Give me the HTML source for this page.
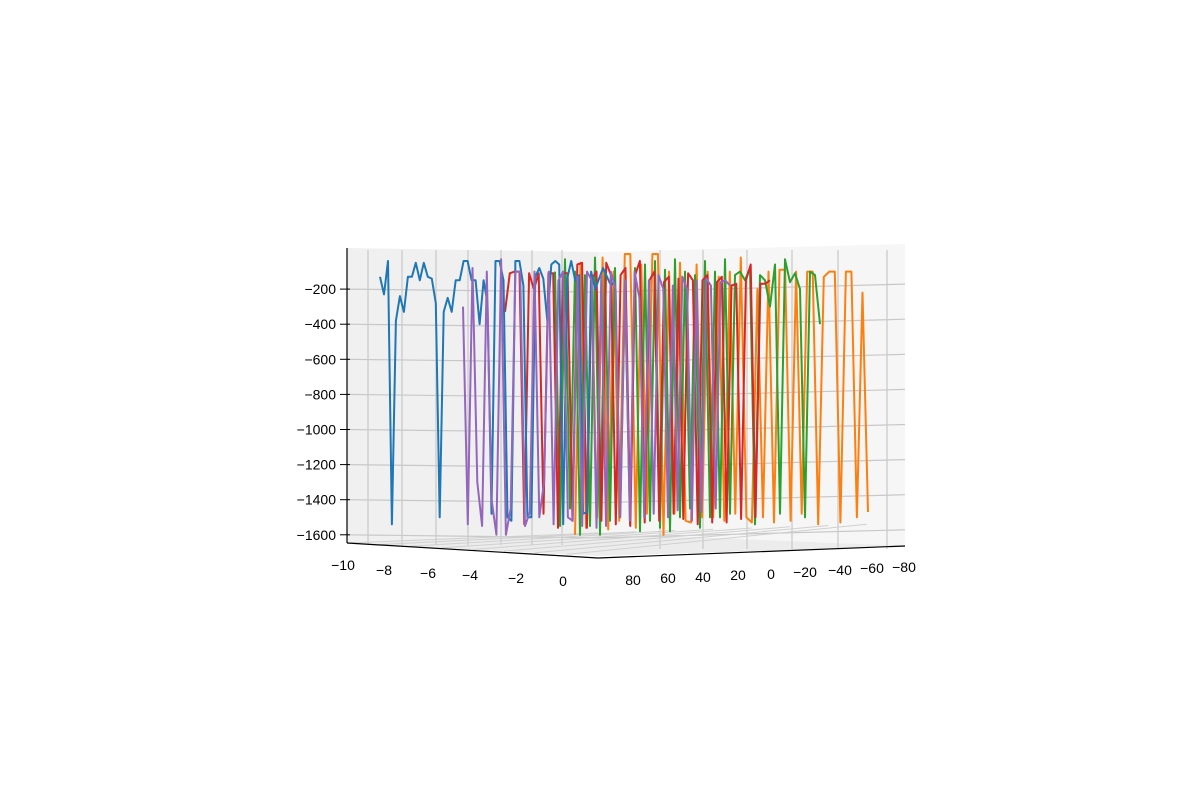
<!DOCTYPE html>
<html><head><meta charset="utf-8"><style>
body{margin:0;background:#fff;}
svg text{font-family:"Liberation Sans","DejaVu Sans",sans-serif;font-size:14px;fill:#000;}
</style></head><body>
<svg id="chart" width="1200" height="800" viewBox="0 0 1200 800" xmlns="http://www.w3.org/2000/svg">
<rect width="1200" height="800" fill="#fff"/>
<g id="panes"></g><g id="grid"></g><g id="series"></g><g id="axes"></g>
</svg>
<script>
const zTicks=[-200,-400,-600,-800,-1000,-1200,-1400,-1600];
const xTickLabels=["−10","−8","−6","−4","−2","0"];
const yTickLabels=["80","60","40","20","0","−20","−40","−60","−80"];
const seriesNames=["series-blue","series-orange","series-green","series-red","series-purple"];
const seriesColors=["#1f77b4","#ff7f0e","#2ca02c","#d62728","#9467bd"];
const blueVals=[-130,-230,-40,-1540,-380,-240,-330,-130,-130,-50,-150,-50,-130,-140,-280,-1500,-330,-250,-330,-150,-150,-40,-40,-150,-150,-400,-150,-280,-1480,-40,-40,-150,-1500,-1520,-40,-40,-180,-1500,-1500,-130,-80,-140,-380,-60,-40,-60,-1540,-140,-40,-150,-120,-1480,-1470,-100,-200,-140,-80,-130,-180,-150];
const orangeVals=[-1600,-50,-1560,-150,-1500,-20,-1570,-100,-1520,0,0,-1560,-60,-1480,0,0,-1600,-100,-1480,-50,-1520,-1530,-60,-1500,-100,-1500,-130,-1520,-100,-1480,-20,-1500,-1530,-200,-1500,-100,-1530,-90,-90,-1520,-100,-1480,-100,-100,-1540,-130,-100,-100,-1530,-100,-100,-1500,-220,-1470];
const greenVals=[-100,-1550,-30,-1450,-100,-1600,-120,-1550,-20,-1600,-100,-1520,-80,-1500,-200,-1540,-80,-1580,-60,-1520,-40,-1560,-90,-1580,-30,-1500,-100,-1450,-120,-1560,-40,-1500,-100,-1500,-30,-1480,-120,-100,-150,-80,-1540,-120,-150,-300,-60,-1480,-30,-160,-110,-200,-1500,-100,-120,-400];
const redVals=[-330,-110,-100,-100,-1540,-110,-200,-110,-1480,-110,-110,-1560,-110,-110,-1520,-60,-50,-1560,-140,-100,-1520,-50,-120,-1540,-120,-80,-1550,-120,-40,-1530,-150,-100,-1520,-160,-130,-1480,-140,-1510,-110,-150,-1540,-150,-120,-1530,-160,-130,-1530,-180,-170,-1510,-150,-60,-1500,-170,-170,-150];
const purpleVals=[-300,-1540,-80,-1300,-1550,-100,-1400,-1600,-30,-1600,-1450,-100,-100,-1550,-1470,-100,-1500,-1300,-100,-1540,-150,-100,-1500,-1520,-130,-1550,-100,-150,-1560,-120,-1550,-100,-200,-1500,-150,-1520,-100,-250,-1500,-150,-1480,-120,-200,-1500,-180,-1460,-130,-200,-1520,-150,-1470,-140,-180,-1450,-160,-150,-180];
const seriesVals=[blueVals,orangeVals,greenVals,redVals,purpleVals];
const seriesStart=[380,575,555,505,463];
const seriesEnd=[615,868,820,770,730];
const drawOrder=[1,2,3,0,4];

const NS="http://www.w3.org/2000/svg";
function el(tag,attrs,parent){const e=document.createElementNS(NS,tag);for(const k in attrs)e.setAttribute(k,attrs[k]);parent.appendChild(e);return e;}
const zY=z=>254-0.1755*(-z)*(-1)*(-1)*-1; // placeholder replaced below
function zToY(z){return 254+(-z)*0.1755;}
const panes=document.getElementById('panes'),grid=document.getElementById('grid'),ser=document.getElementById('series'),axes=document.getElementById('axes');

let p=el('polygon',{points:"347,248 598,252 598,556 347,543",fill:"#f0f0f0"},panes);

p=el('polygon',{points:"598,252 905,244 905,546 598,556",fill:"#f6f6f6"},panes);

p=el('polygon',{points:"347,543 598,556 905,546 598,533",fill:"#ececec"},panes);


[368,402,436,468,501,532,562].forEach(x=>{const l=el('line',{x1:x,y1:250,x2:x,y2:545,stroke:"#c8c8c8","stroke-width":1.2},grid);});
[660,703,747,792,838,887].forEach(x=>{const l=el('line',{x1:x,y1:250,x2:x,y2:549,stroke:"#c8c8c8","stroke-width":1.2},grid);});
zTicks.forEach(z=>{const y=zToY(z);
 const l=el('polyline',{points:`347,${y} 598,${y+3} 905,${y-5}`,fill:"none",stroke:"#c8c8c8","stroke-width":1.2},grid);
 
 const t=el('line',{x1:340,y1:y,x2:350,y2:y,stroke:"#000","stroke-width":1},axes);
 
 const tx=el('text',{x:336,y:y+5,"text-anchor":"end"},axes);tx.textContent=z<0?"−"+(-z):z;
 
});
for(let i=0;i<8;i++){const a=i/8;const l=el('line',{x1:347+a*251,y1:543+a*13,x2:598+a*307,y2:533+a*13-a*23+a*0,stroke:"#d0d0d0","stroke-width":1},grid);}

seriesNames.forEach((n,k)=>{});
drawOrder.forEach(k=>{const v=seriesVals[k];const n=v.length;
 const pts=v.map((z,i)=>`${(seriesStart[k]+(seriesEnd[k]-seriesStart[k])*i/(n-1)).toFixed(1)},${zToY(z).toFixed(1)}`).join(' ');
 const pl=el('polyline',{points:pts,fill:"none",stroke:seriesColors[k],"stroke-width":2,"stroke-linejoin":"round"},ser);
 
});

let a=el('line',{x1:347,y1:248,x2:347,y2:543,stroke:"#000","stroke-width":1.2},axes);
a=el('polyline',{points:"347,543 598,558",fill:"none",stroke:"#000","stroke-width":1.2},axes);
a=el('polyline',{points:"598,558 905,546",fill:"none",stroke:"#000","stroke-width":1.2},axes);
const xPos=[[343,570],[384,575],[428,578],[470,580],[516,583],[563,586]];
xTickLabels.forEach((s,i)=>{const t=el('text',{x:xPos[i][0],y:xPos[i][1],"text-anchor":"middle"},axes);t.textContent=s;});
const yPos=[[633,585],[668,583],[703,582],[738,580],[771,579],[805,577],[840,575],[872,573],[904,572]];
yTickLabels.forEach((s,i)=>{const t=el('text',{x:yPos[i][0],y:yPos[i][1],"text-anchor":"middle"},axes);t.textContent=s;});
</script>
</body></html>
